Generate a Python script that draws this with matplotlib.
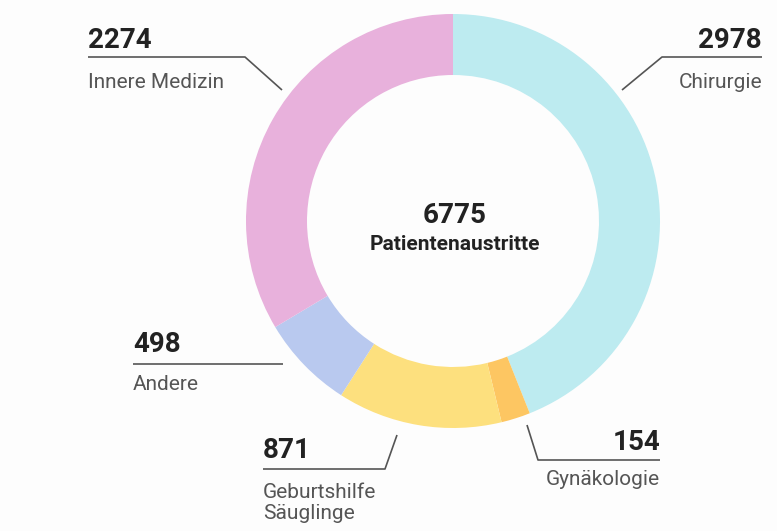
import matplotlib.pyplot as plt

plt.rcParams['font.family'] = ['Roboto', 'DejaVu Sans']

# Daten
kategorien = ['Chirurgie', 'Gynäkologie', 'Geburtshilfe\nSäuglinge', 'Andere', 'Innere Medizin']
werte = [2978, 154, 871, 498, 2274]
farben = ['#bdebf0', '#fdc662', '#fde07e', '#b9c9ef', '#e8b1dc']
titel = 'Patientenaustritte'

fig = plt.figure(figsize=(7.77, 5.31), dpi=100)
fig.patch.set_facecolor('#fdfdfd')
ax = fig.add_axes([0, 0, 1, 1])

# y-Achse läuft nach unten -> counterclock=True dreht auf dem Bild im Uhrzeigersinn
ax.pie(werte, colors=farben, startangle=-90, counterclock=True,
       center=(453, 221), radius=207,
       wedgeprops=dict(width=61, linewidth=0))
ax.set_xlim(0, 777)
ax.set_ylim(531, 0)
ax.set_aspect('equal')
ax.axis('off')

zahl_farbe = '#222222'
text_farbe = '#555555'
linie = dict(color='#555555', lw=1.2, solid_capstyle='butt')

# Beschriftungen: (Zahl-Position, Ausrichtung, Linienpunkte, Textzeile)
label_pos = [
    ((762, 48), 'right', [(762, 57), (662, 57), (622, 90)], 88),
    ((660, 450), 'right', [(660, 460), (538, 460), (527, 425)], 485),
    ((263, 458), 'left', [(263, 469), (385, 469), (397, 435)], 498),
    ((133, 352), 'left', [(133, 364), (283, 364)], 390),
    ((88, 48), 'left', [(88, 57), (245, 57), (282, 90)], 88),
]

for name, wert, (pos, ha, pts, ty) in zip(kategorien, werte, label_pos):
    ax.text(pos[0], pos[1], str(wert), ha=ha, va='baseline',
            fontsize=20, fontweight='bold', color=zahl_farbe)
    xs = [p[0] for p in pts]
    ys = [p[1] for p in pts]
    ax.plot(xs, ys, **linie)
    for i, zeile in enumerate(name.split('\n')):
        ax.text(pos[0], ty + i * 21, zeile, ha=ha, va='baseline',
                fontsize=15, color=text_farbe)

ax.text(455, 223, str(sum(werte)), ha='center', va='baseline',
        fontsize=20, fontweight='bold', color=zahl_farbe)
ax.text(455, 250, titel, ha='center', va='baseline',
        fontsize=15, fontweight='bold', color=zahl_farbe)

fig.savefig('out.png', dpi=100, facecolor=fig.get_facecolor())
